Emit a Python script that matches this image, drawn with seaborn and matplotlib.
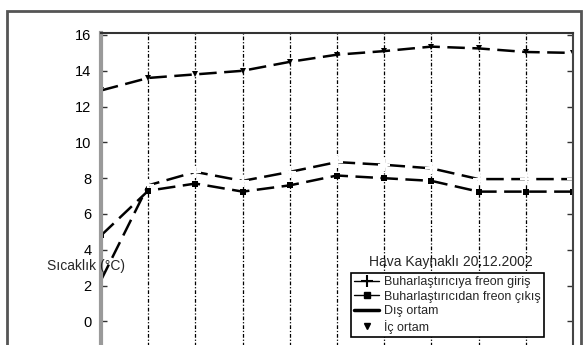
import matplotlib
matplotlib.use("Agg")
import matplotlib.pyplot as plt
import seaborn as sns
import pandas as pd
from matplotlib.lines import Line2D
from matplotlib.patches import Rectangle

# --- data ---
time_idx = [0, 1, 2, 3, 4, 5, 6, 7, 8, 9, 10]
ic_ortam = [12.9, 13.6, 13.8, 14.0, 14.5, 14.9, 15.1, 15.35, 15.25, 15.05, 15.0]
freon_giris = [2.3, 7.6, 8.35, 7.85, 8.35, 8.9, 8.75, 8.55, 7.95, 7.95, 7.95]
freon_cikis = [4.8, 7.3, 7.7, 7.25, 7.6, 8.15, 8.0, 7.85, 7.25, 7.25, 7.25]
y_ticks = [0, 2, 4, 6, 8, 10, 12, 14, 16]
legend_labels = ["Buharlaştırıcıya freon giriş", "Buharlaştırıcıdan freon çıkış",
                 "Dış ortam", "İç ortam"]
title_text = "Hava Kaynaklı 20.12.2002"
ylabel_text = "Sıcaklık (°C)"

sns.set_style("white")
plt.rcParams["font.family"] = ["Liberation Sans", "DejaVu Sans"]

W, H = 588, 345
fig = plt.figure(figsize=(W / 100, H / 100), dpi=100)
top_px, bot_px = 33.2, 357.2
ax = fig.add_axes([101 / W, 1 - bot_px / H, (573 - 101) / W, (bot_px - top_px) / H])

df = pd.DataFrame({"t": time_idx, "ic": ic_ortam, "giris": freon_giris, "cikis": freon_cikis})

sns.lineplot(data=df, x="t", y="ic", ax=ax, color="black", lw=1.8,
             linestyle=(0, (7, 3)), marker="v", markersize=4, mew=0)
sns.lineplot(data=df, x="t", y="giris", ax=ax, color="black", lw=1.8,
             linestyle=(0, (7, 3)), marker="+", markersize=8, mew=1.6)
sns.lineplot(data=df, x="t", y="cikis", ax=ax, color="black", lw=1.8,
             linestyle=(0, (7, 3)), marker="s", markersize=5, mew=0)

ax.set_xlim(0, 10)
ax.set_ylim(-2, 16.1)
ax.set_yticks(y_ticks)
ax.set_yticklabels([str(v) for v in y_ticks], fontsize=10.5)
ax.set_xticks([])
ax.set_xlabel("")
ax.set_ylabel("")
ax.tick_params(axis="y", direction="in", length=4, width=1, left=True, right=True,
               labelleft=True, labelright=False, pad=7, colors="#333333")
ax.tick_params(axis="y", labelcolor="black")

for xv in range(1, 10):
    ax.axvline(xv, color="black", lw=0.9, linestyle=(0, (3, 1.5, 1, 1.5)), zorder=0)

ax.spines["left"].set_color("#9a9a9a")
ax.spines["left"].set_linewidth(3)
ax.spines["top"].set_color("#333333")
ax.spines["top"].set_linewidth(1.5)
ax.spines["right"].set_color("#444444")
ax.spines["right"].set_linewidth(1.5)
ax.spines["bottom"].set_visible(False)

fig.text(86 / W, 1 - 266 / H, ylabel_text, fontsize=10, ha="center", va="center")
fig.text(451 / W, 1 - 262 / H, title_text, fontsize=10, ha="center", va="center")

handles = [
    Line2D([], [], color="black", lw=1, marker="+", markersize=8, mew=1.5),
    Line2D([], [], color="black", lw=1, marker="s", markersize=5),
    Line2D([], [], color="black", lw=2.5),
    Line2D([], [], color="black", lw=0, marker="v", markersize=4),
]
leg = fig.legend(handles, legend_labels, loc="upper left",
                 bbox_to_anchor=(351 / W, 1 - 273 / H), bbox_transform=fig.transFigure,
                 borderaxespad=0, fontsize=9, handlelength=2.0, handletextpad=0.4,
                 labelspacing=0.2, borderpad=0.25, fancybox=False, framealpha=1,
                 edgecolor="black")
leg.get_frame().set_linewidth(1.2)

fig.patches.append(Rectangle((7 / W, -0.1), (581 - 7) / W, 1.1 - 11 / H,
                             transform=fig.transFigure, fill=False,
                             edgecolor="#555555", lw=2))

fig.savefig("out.png", dpi=100)
